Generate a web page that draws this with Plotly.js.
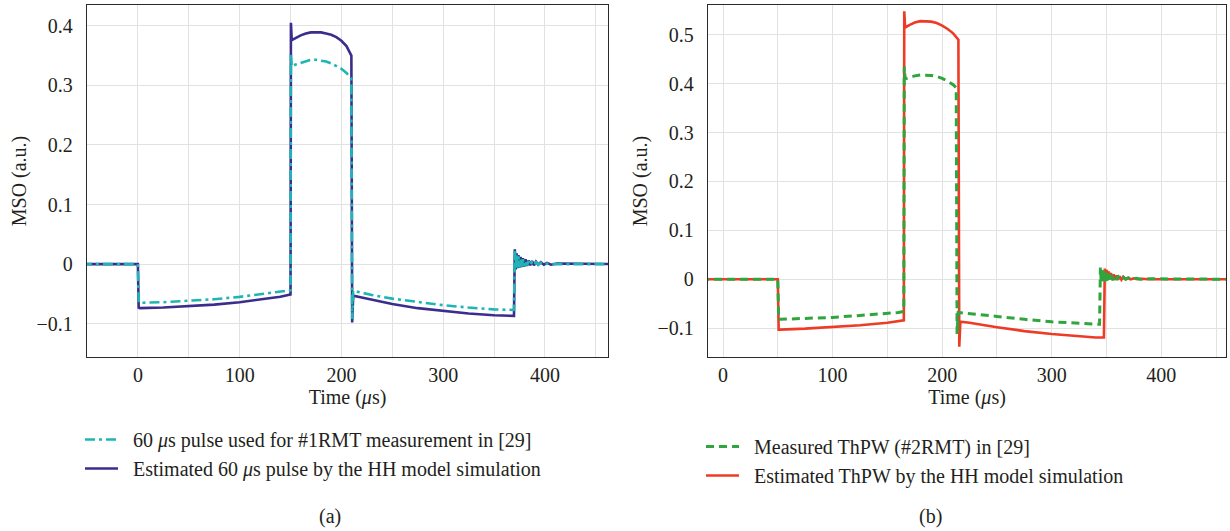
<!DOCTYPE html>
<html>
<head>
<meta charset="utf-8">
<script src="https://cdn.plot.ly/plotly-3.0.1.min.js"></script>
<style>
html,body{margin:0;padding:0;background:#fff;}
#chart{width:1230px;height:531px;}
</style>
</head>
<body>
<div id="chart"></div>
<script>
// ---------- Panel (a) ----------
const timeA = [-55, 0, 0.8, 2, 25, 50, 75, 100, 125, 140,
  150, 150.4, 151.2, 155, 160, 165, 170, 175, 180, 185,
  190, 195, 200, 205, 209.8, 210.6, 211.6, 220, 230, 250,
  275, 300, 325, 350, 369.6, 370.4, 371.3, 372.2, 373.1, 374,
  375, 376, 377.2, 378.4, 379.6, 381, 382.4, 384, 385.6, 387.4,
  389.2, 391.2, 393.4, 396, 399, 402, 406, 412, 465];
const simA = [0, 0, -0.073, -0.074, -0.073, -0.071, -0.068, -0.064, -0.059, -0.055,
  -0.051, 0.405, 0.376, 0.380, 0.384, 0.387, 0.389, 0.389, 0.389, 0.387,
  0.385, 0.381, 0.375, 0.366, 0.350, -0.098, -0.053, -0.056, -0.060, -0.067,
  -0.074, -0.079, -0.083, -0.086, -0.087, 0.025, -0.009, 0.018, -0.007, 0.015,
  -0.006, 0.012, -0.005, 0.010, -0.004, 0.008, -0.003, 0.006, -0.002, 0.005,
  -0.002, 0.004, -0.001, 0.003, -0.001, 0.002, -0.001, 0.001, 0];
const measA = [0, 0, -0.064, -0.065, -0.064, -0.062, -0.059, -0.055, -0.050, -0.047,
  -0.044, 0.352, 0.332, 0.335, 0.338, 0.341, 0.343, 0.343, 0.342, 0.340,
  0.337, 0.333, 0.328, 0.321, 0.311, -0.092, -0.045, -0.048, -0.052, -0.058,
  -0.064, -0.069, -0.073, -0.076, -0.077, 0.022, -0.007, 0.016, -0.006, 0.013,
  -0.005, 0.010, -0.004, 0.008, -0.003, 0.006, -0.002, 0.005, -0.002, 0.004,
  -0.001, 0.003, -0.001, 0.002, -0.001, 0.001, 0, 0, 0];
const nameMeasA = '60 <i>μ</i>s pulse used for #1RMT measurement in [29]';
const nameSimA = 'Estimated 60 <i>μ</i>s pulse by the HH model simulation';

// ---------- Panel (b) ----------
const timeSimB = [-20, 0, 50, 50.8, 52, 75, 100, 125, 150, 160,
  165, 165.4, 166.2, 170, 175, 180, 185, 190, 195, 200,
  205, 210, 214.8, 215.6, 216.6, 225, 250, 275, 300, 325,
  340, 347.6, 348.4, 349.3, 350.2, 351.1, 352, 353, 354, 355.2,
  356.4, 357.6, 359, 360.4, 362, 363.6, 365.4, 367.4, 369.6, 372,
  375, 378, 382, 388, 465];
const simB = [0, 0, 0, -0.103, -0.103, -0.101, -0.098, -0.094, -0.089, -0.086,
  -0.084, 0.548, 0.515, 0.520, 0.525, 0.528, 0.528, 0.527, 0.524, 0.519,
  0.512, 0.503, 0.490, -0.138, -0.087, -0.089, -0.098, -0.106, -0.112, -0.117,
  -0.119, -0.119, 0.022, 0.002, 0.019, 0.001, 0.016, 0.000, 0.013, 0.000,
  0.010, -0.001, 0.008, -0.001, 0.006, -0.001, 0.005, 0.000, 0.003, 0.000,
  0.002, 0.000, 0.001, 0, 0];
const timeMeasB = [-20, 0, 50, 50.8, 52, 75, 100, 125, 150, 160,
  165, 165.4, 166.2, 170, 175, 180, 185, 190, 195, 200,
  205, 210, 212.8, 213.6, 214.6, 225, 250, 275, 300, 325,
  343.6, 344.4, 345.2, 346, 346.8, 347.7, 348.6, 349.6, 350.6, 351.8,
  353, 354.4, 355.8, 357.4, 359, 360.8, 362.8, 365, 367.4, 370,
  373, 377, 381, 387, 465];
const measB = [0, 0, 0, -0.082, -0.082, -0.080, -0.078, -0.074, -0.070, -0.068,
  -0.066, 0.435, 0.410, 0.413, 0.416, 0.418, 0.418, 0.417, 0.415, 0.411,
  0.405, 0.398, 0.392, -0.112, -0.068, -0.070, -0.076, -0.082, -0.087, -0.090,
  -0.092, 0.024, -0.006, 0.021, -0.005, 0.017, -0.004, 0.014, -0.003, 0.011,
  -0.002, 0.009, -0.002, 0.007, -0.001, 0.005, -0.001, 0.004, 0.000, 0.003,
  0.000, 0.002, 0.000, 0.001, 0];
const nameMeasB = 'Measured ThPW (#2RMT) in [29]';
const nameSimB = 'Estimated ThPW by the HH model simulation';

const xTickVals = [0, 100, 200, 300, 400];
const yTicksA = [-0.1, 0, 0.1, 0.2, 0.3, 0.4];
const yTicksB = [-0.1, 0, 0.1, 0.2, 0.3, 0.4, 0.5];
const panelLabels = ['(a)', '(b)'];

// ---------- styling ----------
const FONT = '"Liberation Serif", "DejaVu Serif", serif';
const FS = 20;
const TXT = '#231f20';
const GRID = '#e2e2e2';
const GAP = '\u00A0\u00A0';

const traces = [
  {x: timeA, y: simA, xaxis: 'x', yaxis: 'y', mode: 'lines', name: GAP + nameSimA,
   line: {color: '#3a2d8c', width: 2.6}, legend: 'legend', legendrank: 2},
  {x: timeA, y: measA, xaxis: 'x', yaxis: 'y', mode: 'lines', name: GAP + nameMeasA,
   line: {color: '#1fb5b5', width: 2.6, dash: '10px,4px,3px,4px'}, legend: 'legend', legendrank: 1},
  {x: timeSimB, y: simB, xaxis: 'x2', yaxis: 'y2', mode: 'lines', name: GAP + nameSimB,
   line: {color: '#ee3b26', width: 2.6}, legend: 'legend2', legendrank: 2},
  {x: timeMeasB, y: measB, xaxis: 'x2', yaxis: 'y2', mode: 'lines', name: GAP + nameMeasB,
   line: {color: '#2ea63d', width: 3, dash: '8px,5px'}, legend: 'legend2', legendrank: 1}
];

function xAx(domain, range, anchor) {
  return {
    domain: domain, range: range, anchor: anchor,
    tickmode: 'array', tickvals: xTickVals,
    showline: true, mirror: true, linecolor: '#2a2a2a', linewidth: 1.3,
    showgrid: true, gridcolor: GRID, gridwidth: 1, zeroline: false, ticks: '',
    minor: {tickmode: 'linear', tick0: 0, dtick: 50, showgrid: true, gridcolor: GRID, gridwidth: 1, ticks: ''},
    tickfont: {family: FONT, size: FS, color: TXT},
    ticklabelstandoff: 0,
    title: {text: 'Time (<i>μ</i>s)', font: {family: FONT, size: FS, color: TXT}, standoff: 0}
  };
}
function yAx(domain, range, anchor, tv) {
  return {
    domain: domain, range: range, anchor: anchor,
    tickmode: 'array', tickvals: tv,
    showline: true, mirror: true, linecolor: '#2a2a2a', linewidth: 1.3,
    showgrid: true, gridcolor: GRID, gridwidth: 1, zeroline: false, ticks: '',
    tickfont: {family: FONT, size: FS, color: TXT},
    ticklabelstandoff: 9,
    title: {text: 'MSO (a.u.)', font: {family: FONT, size: FS, color: TXT}, standoff: 4}
  };
}

const layout = {
  width: 1230, height: 531,
  margin: {l: 0, r: 0, t: 0, b: 0},
  paper_bgcolor: '#ffffff', plot_bgcolor: '#ffffff',
  font: {family: FONT, size: FS, color: TXT},
  showlegend: true,
  xaxis: xAx([87/1230, 608/1230], [-50, 462], 'y'),
  yaxis: yAx([1 - 357/531, 1 - 5/531], [-0.156, 0.435], 'x', yTicksA),
  xaxis2: xAx([708/1230, 1226/1230], [-13.7, 459], 'y2'),
  yaxis2: yAx([1 - 357/531, 1 - 5/531], [-0.159, 0.561], 'x2', yTicksB),
  legend: {x: 80/1230, y: 1 - 420/531, xanchor: 'left', yanchor: 'top',
    bgcolor: 'rgba(0,0,0,0)', font: {family: FONT, size: FS, color: TXT}, itemwidth: 33,
    traceorder: 'normal'},
  legend2: {x: 701/1230, y: 1 - 427/531, xanchor: 'left', yanchor: 'top',
    bgcolor: 'rgba(0,0,0,0)', font: {family: FONT, size: FS, color: TXT}, itemwidth: 33,
    traceorder: 'normal'},
  annotations: [
    {text: panelLabels[0], xref: 'paper', yref: 'paper', x: 330/1230, y: 1 - 516/531,
     xanchor: 'center', yanchor: 'middle', showarrow: false, font: {family: FONT, size: FS, color: TXT}},
    {text: panelLabels[1], xref: 'paper', yref: 'paper', x: 930/1230, y: 1 - 516/531,
     xanchor: 'center', yanchor: 'middle', showarrow: false, font: {family: FONT, size: FS, color: TXT}}
  ]
};

Plotly.newPlot('chart', traces, layout, {displayModeBar: false, staticPlot: true});
</script>
</body>
</html>
